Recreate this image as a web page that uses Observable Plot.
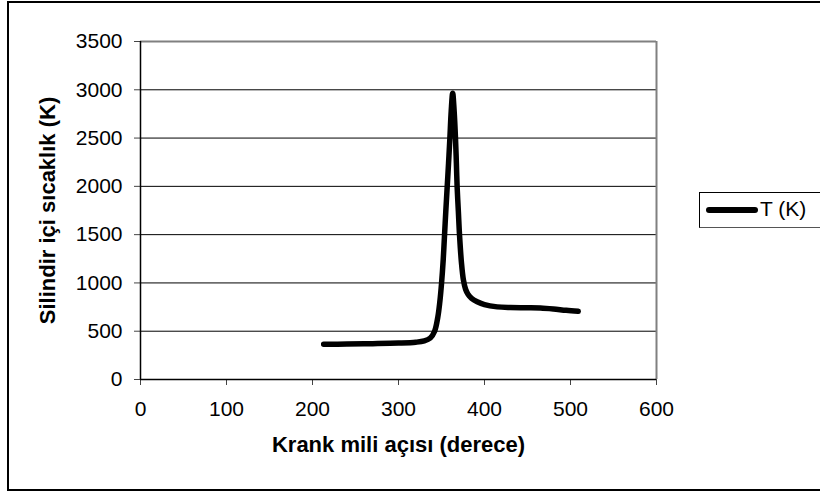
<!DOCTYPE html>
<html>
<head>
<meta charset="utf-8">
<script src="https://cdn.jsdelivr.net/npm/d3@7"></script>
<script src="https://cdn.jsdelivr.net/npm/@observablehq/plot@0.6"></script>
<style>
  html, body { margin: 0; padding: 0; background: #fff; }
  #wrap { position: relative; width: 820px; height: 495px; overflow: hidden; font-family: Arial, "Liberation Sans", sans-serif; }
  #border { position: absolute; left: 7px; top: 1px; width: 830px; height: 490px; border: 2px solid #000; box-sizing: border-box; pointer-events: none; }
  #legend { position: absolute; left: 699px; top: 192px; width: 140px; height: 36px; border: 1.5px solid #000; border-bottom-color: #555; box-sizing: border-box; background: #fff; }
  #legend .swatch { position: absolute; left: 6px; top: 14px; width: 52px; height: 6px; background: #000; border-radius: 3px; }
  #legend .lab { position: absolute; left: 60px; top: 3px; font-size: 21px; line-height: 26px; color: #000; }
</style>
</head>
<body>
<div id="wrap">
  <div id="chart"></div>
  <div id="border"></div>
  <div id="legend"><div class="swatch"></div><div class="lab" id="legendLabel"></div></div>
</div>
<script>
// Data
const crankAngle = [213, 240, 270, 300, 320, 330, 337, 342, 345.7, 348, 350, 352, 353.5, 355, 356.6, 358.2, 359.7, 361.3, 363, 364.7, 366.3, 367.3, 368.2, 369.6, 371, 373.2, 375.5, 378, 381, 385, 391.5, 400, 414.8, 430, 450, 465, 480, 495, 509];
const temperature = [365, 367, 371, 377, 386, 400, 430, 500, 645, 800, 990, 1240, 1491, 1740, 1991, 2240, 2492, 2780, 2965, 2780, 2492, 2240, 1991, 1740, 1491, 1210, 1030, 935, 880, 840, 805, 775, 752, 745, 743, 740, 730, 716, 706];
const yTicks = [0, 500, 1000, 1500, 2000, 2500, 3000, 3500];
const xTicks = [0, 100, 200, 300, 400, 500, 600];
const seriesName = "T (K)";
const xTitle = "Krank mili açısı (derece)";
const yTitle = "Silindir içi sıcaklık (K)";

const data = crankAngle.map((x, i) => ({x, t: temperature[i]}));

const chart = Plot.plot({
  width: 820,
  height: 495,
  marginLeft: 140,
  marginRight: 164,
  marginTop: 41,
  marginBottom: 116,
  style: {fontFamily: "Arial, 'Liberation Sans', sans-serif", fontSize: "21px", background: "transparent", color: "#000"},
  x: {domain: [0, 600]},
  y: {domain: [0, 3500]},
  marks: [
    Plot.gridY(yTicks.filter(d => d > 0 && d < 3500), {stroke: "#000", strokeOpacity: 1, strokeWidth: 1}),
    Plot.ruleY([3500], {stroke: "#808080", strokeWidth: 2}),
    Plot.ruleX([600], {stroke: "#808080", strokeWidth: 2}),
    Plot.axisY({ticks: yTicks, tickSize: 6, tickPadding: 12, fontSize: 21, label: null, tickFormat: d => String(d), stroke: "#444"}),
    Plot.axisX({ticks: xTicks, tickSize: 6, tickPadding: 16, fontSize: 21, label: null, tickFormat: d => String(d), stroke: "#444"}),
    Plot.ruleX([0], {stroke: "#000", strokeWidth: 1.5}),
    Plot.ruleY([0], {stroke: "#000", strokeWidth: 1.5}),
    Plot.line(data, {x: "x", y: "t", stroke: "#000", strokeWidth: 5.5, curve: "catmull-rom", strokeLinecap: "round", strokeLinejoin: "round"}),
    Plot.text([xTitle], {text: d => d, frameAnchor: "bottom", dy: 72, fontSize: 22, fontWeight: "bold"}),
    Plot.text([yTitle], {text: d => d, frameAnchor: "left", textAnchor: "middle", dx: -93, rotate: -90, fontSize: 22, fontWeight: "bold"})
  ]
});
document.getElementById("chart").appendChild(chart);
document.getElementById("legendLabel").textContent = seriesName;
</script>
</body>
</html>
